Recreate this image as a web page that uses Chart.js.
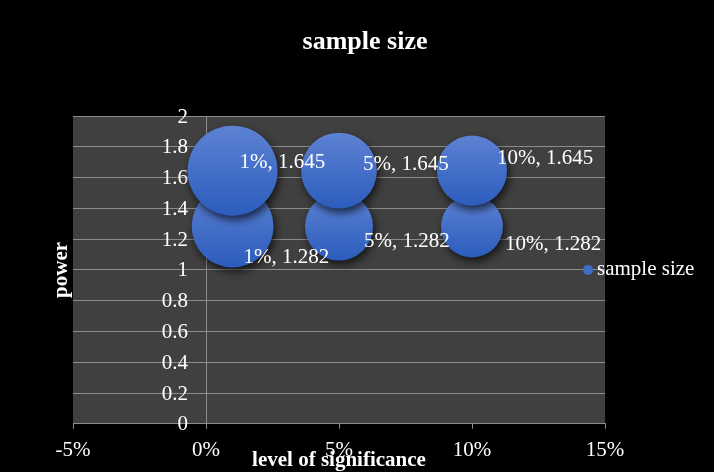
<!DOCTYPE html>
<html>
<head>
<meta charset="utf-8">
<script src="https://cdn.jsdelivr.net/npm/chart.js@4.4.1/dist/chart.umd.min.js"></script>
<style>
  html, body { margin: 0; padding: 0; background: #000; }
  #wrap { width: 714px; height: 472px; }
</style>
</head>
<body>
<div id="wrap"><canvas id="chart"></canvas></div>
<script>
// level of significance (%), power (z value), sample size (bubble size)
const significance = [1, 5, 10];
const powerLower = [1.282, 1.282, 1.282];
const powerUpper = [1.645, 1.645, 1.645];
const sizeLower = [168, 116, 96];
const sizeUpper = [203, 144, 123];

const xTicks = [-5, 0, 5, 10, 15];
const yMin = 0, yMax = 2, yStep = 0.2;

const MAX_R = 45;
const maxSize = Math.max(...sizeLower, ...sizeUpper);
const radius = (s) => MAX_R * Math.sqrt(s / maxSize);

const points = [];
significance.forEach((x, i) => points.push({ x: x, y: powerLower[i], r: radius(sizeLower[i]) }));
significance.forEach((x, i) => points.push({ x: x, y: powerUpper[i], r: radius(sizeUpper[i]) }));

// label nudges relative to bubble centre (px), same order as points
const labelOffsets = [[11, 31], [25, 15], [33, 18], [7, -8], [24, -6], [25, -12]];

const serif = '"Liberation Serif", "Times New Roman", serif';
Chart.defaults.font.family = serif;
Chart.defaults.font.size = 21;
Chart.defaults.color = "#fff";

const gridColor = "#8c8c8c";

function bubbleFill(ctx) {
  const chart = ctx.chart;
  const yScale = chart.scales.y;
  const p = ctx.raw;
  if (!yScale || !p) return "#3f6cc9";
  const cy = yScale.getPixelForValue(p.y);
  if (!isFinite(cy) || !isFinite(p.r)) return "#3f6cc9";
  const g = chart.ctx.createLinearGradient(0, cy - p.r, 0, cy + p.r);
  g.addColorStop(0, "#5d82d3");
  g.addColorStop(1, "#2c5cbd");
  return g;
}

const decor = {
  id: "decor",
  beforeDraw(chart) {
    const { ctx, chartArea: a } = chart;
    ctx.save();
    ctx.fillStyle = "#000";
    ctx.fillRect(0, 0, chart.width, chart.height);
    ctx.fillStyle = "#404040";
    ctx.fillRect(a.left, a.top, a.right - a.left, a.bottom - a.top);
    ctx.restore();
  },
  beforeDatasetsDraw(chart) {
    const ctx = chart.ctx;
    const ys = chart.scales.y;
    // y tick labels sit left of the axis line at 0%
    ctx.save();
    ctx.font = "21px " + serif;
    ctx.fillStyle = "#fff";
    ctx.textAlign = "right";
    ctx.textBaseline = "middle";
    const axisX = chart.scales.x.getPixelForValue(0);
    ys.ticks.forEach((t) => {
      ctx.fillText(String(+t.value.toFixed(1)), axisX - 18, ys.getPixelForValue(t.value) + 1);
    });
    ctx.restore();

    ctx.save();
    ctx.shadowColor = "rgba(0,0,0,0.7)";
    ctx.shadowBlur = 8;
    ctx.shadowOffsetX = 2;
    ctx.shadowOffsetY = 4;
  },
  afterDatasetsDraw(chart) {
    const ctx = chart.ctx;
    ctx.restore();
    // data labels
    const meta = chart.getDatasetMeta(0);
    ctx.save();
    ctx.font = "21px " + serif;
    ctx.fillStyle = "#fff";
    ctx.textBaseline = "middle";
    ctx.textAlign = "left";
    meta.data.forEach((el, i) => {
      const p = points[i];
      const o = labelOffsets[i];
      ctx.fillText(p.x + "%, " + p.y, el.x + o[0], el.y + o[1]);
    });
    ctx.restore();
  },
  afterDraw(chart) {
    const { ctx, chartArea: a } = chart;
    ctx.save();
    ctx.fillStyle = "#fff";
    ctx.textAlign = "center";
    ctx.textBaseline = "middle";
    ctx.font = "bold 26px " + serif;
    ctx.fillText("sample size", 365, 42);
    ctx.font = "bold 21px " + serif;
    ctx.fillText("level of significance", (a.left + a.right) / 2, 461);
    ctx.save();
    ctx.translate(62, (a.top + a.bottom) / 2);
    ctx.rotate(-Math.PI / 2);
    ctx.fillText("power", 0, 0);
    ctx.restore();
    // legend
    const ly = chart.scales.y.getPixelForValue(1);
    ctx.beginPath();
    ctx.arc(588, ly, 5, 0, Math.PI * 2);
    ctx.fillStyle = "#3f6cc9";
    ctx.fill();
    ctx.fillStyle = "#fff";
    ctx.textAlign = "left";
    ctx.font = "21px " + serif;
    ctx.fillText("sample size", 597, ly);
    ctx.restore();
  }
};

new Chart(document.getElementById("chart"), {
  type: "bubble",
  data: {
    datasets: [
      {
        label: "sample size",
        data: points,
        backgroundColor: bubbleFill,
        borderWidth: 0,
        hoverBorderWidth: 0,
      },
    ],
  },
  options: {
    responsive: true,
    maintainAspectRatio: false,
    animation: false,
    layout: { padding: { left: 73, right: 109, top: 116, bottom: 0 } },
    plugins: {
      legend: { display: false },
      title: { display: false },
      tooltip: { enabled: false },
    },
    scales: {
      x: {
        type: "linear",
        min: xTicks[0],
        max: xTicks[xTicks.length - 1],
        afterBuildTicks: (s) => { s.ticks = xTicks.map((v) => ({ value: v })); },
        ticks: { color: "#fff", padding: 9, callback: (v) => v + "%" },
        grid: { drawOnChartArea: false, drawTicks: true, tickLength: 5, color: gridColor },
        border: { display: true, color: gridColor },
      },
      y: {
        type: "linear",
        position: { x: 0 },
        min: yMin,
        max: yMax,
        ticks: { stepSize: yStep, display: false },
        grid: { color: gridColor, drawTicks: false, tickLength: 0 },
        border: { display: true, color: gridColor },
      },
    },
  },
  plugins: [decor],
});
</script>
</body>
</html>
